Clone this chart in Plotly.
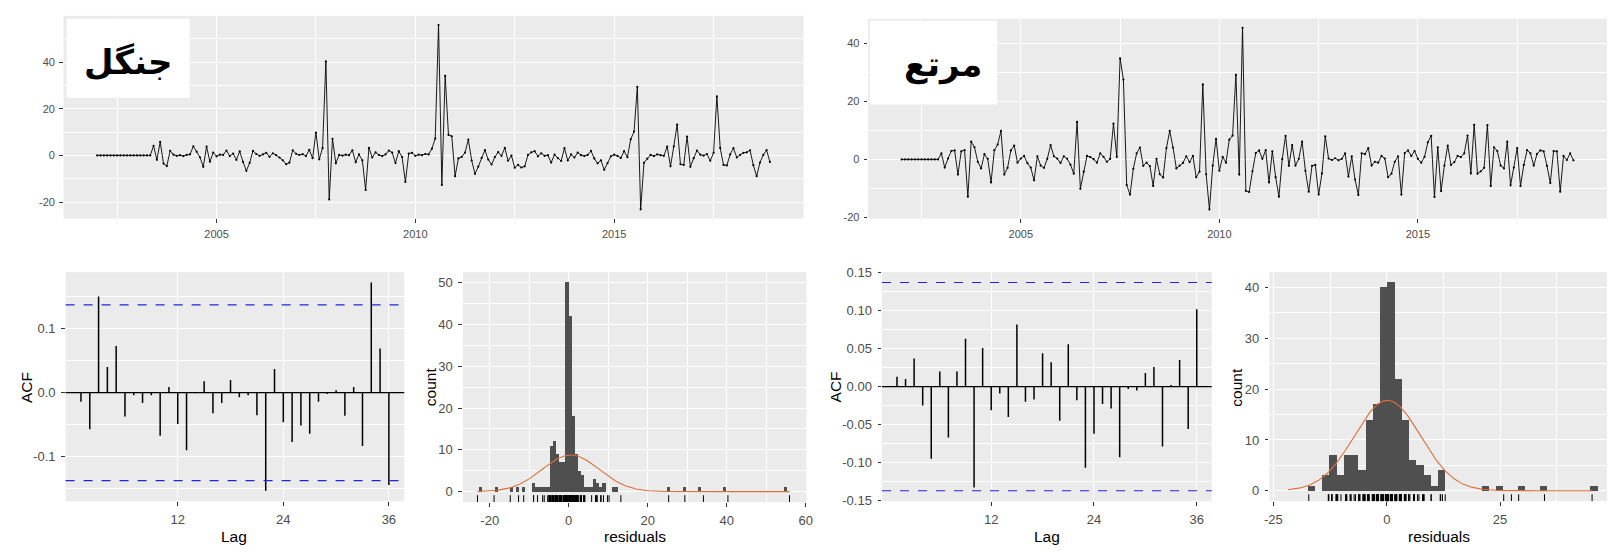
import numpy as np
import plotly.graph_objects as go

# ---------------- data ----------------
start_year = 2002
forest_resid = [
    0, 0, 0, 0, 0, 0, 0, 0, 0, 0, 0, 0,
    0, 0, 0, 0, 0, 4.1, -1.9, 5.8, -3.5, -4.6, 2.0, 0.3,
    -0.2, 0.1, -0.3, 0.2, 0.4, 3.9, 1.6, -0.8, -4.9, 3.8, -2.7, 1.2,
    -0.4, 0.3, 0.2, 2.1, -0.3, 0.8, -1.9, 1.7, -2.8, -6.6, -3.2, 1.9,
    0.6, -0.2, 0.4, 1.1, -0.6, 0.9, 0.1, -0.9, -2.1, -3.8, -3.1, 2.2,
    0.7, 0.2, 0.5, -0.3, 2.4, -1.2, 9.8, -1.7, 3.1, 40.3, -18.9, 7.1,
    -3.4, 0.2, -0.1, 0.3, 0.1, 2.2, -2.9, 0.4, -2.1, -14.8, 3.2, -0.9,
    1.3, 0.2, -0.3, 0.4, 2.1, 1.2, -3.3, 1.8, -0.7, -11.4, 0.8, 1.1,
    -0.2, 0.3, 0.1, 0.6, 0.4, 2.9, 7.2, 55.9, -12.7, 34.1, 8.8, 8.2,
    -8.9, -1.3, -0.6, 1.2, 6.8, -2.2, -7.9, -4.8, -1.1, 2.3, -1.8, -3.9,
    -0.7, 1.4, -0.2, 3.2, -2.3, -0.1, -5.3, -4.1, -5.2, -4.7, 0.2, 1.3,
    1.8, -0.4, 0.9, -0.2, 0.1, -3.1, 0.3, -1.2, -2.4, 3.1, -2.2, 0.4,
    -0.9, 1.2, 0.1, -0.3, 0.2, 1.9, -1.3, -3.4, -2.1, -6.2, -3.3, -0.4,
    0.3, -0.2, -1.1, 1.8, -0.8, 6.9, 10.2, 29.4, -23.1, -3.2, -1.4, 0.2,
    -0.3, 0.4, 0.1, -0.2, 3.8, -4.7, 3.9, 13.2, -3.8, -4.1, 8.1, -4.9,
    -1.2, 2.1, 0.3, -0.1, 0.6, -2.3, 1.1, 25.3, 3.2, -4.1, -4.3, 0.4,
    3.1, -0.9, 0.2, 1.1, 1.3, 2.2, -4.2, -8.9, -3.1, 0.2, 2.3, -2.8,
]
range_resid = [
    0, 0, 0, 0, 0, 0, 0, 0, 0, 0, 0, 0,
    2.1, -2.8, 0.3, 2.9, 3.1, -5.2, 2.8, 3.2, -12.8, 6.1, 4.2, -0.8,
    -3.1, 1.8, 0.2, -7.9, 3.2, 5.1, 9.8, -5.2, -2.9, 3.1, 4.8, -1.1,
    0.3, 1.2, -1.3, -2.8, -7.2, 1.1, -2.1, -2.9, 0.2, 4.9, 1.1, 0.3,
    -1.2, 1.1, 0.2, -1.8, -4.9, 12.9, -10.1, -4.2, 1.2, 0.8, 0.1, -1.1,
    2.1, 0.9, -0.8, 0.2, 12.3, 0.9, 34.8, 27.5, -8.8, -12.1, -3.2, 2.1,
    4.1, -2.2, -1.1, -2.3, -9.1, 0.2, -5.1, -6.2, 3.9, 9.8, 4.1, -3.1,
    -2.1, -1.2, 1.1, -0.9, 1.2, -6.1, -4.2, 25.8, -5.1, -17.2, -2.1, 7.1,
    -3.9, 0.9, -1.1, 6.8, 8.2, 29.1, -5.2, 45.3, -10.8, -11.2, -4.1, 2.2,
    3.1, 0.2, 3.2, -7.9, 2.8, -6.1, -12.8, 0.1, 8.1, -2.2, 4.9, -2.1,
    0.2, 6.1, -3.9, -11.1, -2.2, -1.9, -12.1, -4.8, 7.9, 0.3, -0.2, 0.4,
    -0.3, 0.2, 2.1, -5.9, 1.1, -6.9, -12.2, 2.1, 1.8, 3.9, -2.1, -0.8,
    -1.1, 1.2, 0.3, -6.1, -4.9, -0.8, 1.1, -12.1, 2.2, 3.1, 1.2, 2.9,
    0.2, -1.1, 0.9, 5.9, 8.1, -12.9, 4.2, -10.9, -2.1, 4.8, -1.9, -0.9,
    1.2, 0.8, 2.1, 8.2, -4.8, 11.9, -4.9, -4.1, -2.9, 11.8, -9.1, 4.2,
    2.9, -2.1, -3.1, 6.1, -8.9, -2.8, 3.9, -9.1, -1.9, 3.2, 2.1, -2.1,
    1.9, 3.1, 2.8, -2.2, -8.1, 2.9, 2.8, -11.1, 1.2, -0.2, 2.1, -0.3,
]

acf_lags = list(range(1, 37))
forest_acf = [-0.014, -0.057, 0.150, 0.040, 0.073, -0.037, -0.004, -0.016, -0.004, -0.067,
              0.009, -0.049, -0.090, -0.001, 0.018, -0.032, -0.016, 0.020, -0.007, -0.004,
              -0.035, -0.153, 0.037, -0.046, -0.077, -0.051, -0.064, -0.014, -0.002, 0.004,
              -0.036, 0.009, -0.083, 0.172, 0.069, -0.144]
range_acf = [0.013, 0.010, 0.037, -0.025, -0.095, 0.020, -0.067, 0.020, 0.063, -0.133,
             0.051, -0.031, -0.009, -0.040, 0.082, -0.020, -0.017, 0.044, 0.032, -0.045,
             0.056, -0.018, -0.107, -0.062, -0.023, -0.029, -0.093, -0.003, -0.005, 0.018,
             0.026, -0.079, 0.002, 0.035, -0.056, 0.102]

forest_binwidth = 0.78
forest_hist_centers = [-22.31, -18.41, -14.51, -12.95, -11.39, -9.05, -8.27, -7.49, -6.71, -5.93,
                       -5.15, -4.37, -3.59, -2.81, -2.03, -1.25, -0.47, 0.31, 1.09, 1.87,
                       2.65, 3.43, 4.21, 4.99, 5.77, 6.55, 7.33, 8.11, 8.89, 11.23,
                       12.01, 25.27, 29.17, 33.07, 39.31, 54.91]
forest_hist_counts = [1, 1, 1, 1, 1, 2, 1, 1, 1, 1,
                      1, 11, 12, 9, 7, 7, 50, 42, 18, 9,
                      5, 4, 1, 1, 1, 3, 2, 1, 2, 1,
                      1, 1, 1, 1, 1, 1]
range_binwidth = 1.6
range_hist_centers = [-16.58, -13.38, -11.78, -10.18, -8.58, -6.98, -5.38, -3.78, -2.18, -0.58,
                      1.02, 2.62, 4.22, 5.82, 7.42, 9.02, 10.62, 12.22, 21.82, 25.02,
                      29.82, 34.62, 45.82]
range_hist_counts = [1, 3, 7, 3, 7, 7, 4, 14, 17, 40,
                     41, 22, 14, 6, 5, 3, 1, 4, 1, 1,
                     1, 1, 1]

ts_xticks = [2005, 2010, 2015]
ts_xminor = [2002.5, 2007.5, 2012.5, 2017.5]
forest_ts_yticks = [-20, 0, 20, 40]
range_ts_yticks = [-20, 0, 20, 40]
acf_xticks = [12, 24, 36]
forest_acf_yticks = [-0.1, 0.0, 0.1]
forest_acf_ylabels = ["-0.1", "0.0", "0.1"]
range_acf_yticks = [-0.15, -0.10, -0.05, 0.0, 0.05, 0.10, 0.15]
range_acf_ylabels = ["-0.15", "-0.10", "-0.05", "0.00", "0.05", "0.10", "0.15"]
forest_hist_xticks = [-20, 0, 20, 40, 60]
range_hist_xticks = [-25, 0, 25]
hist_yticks = [0, 10, 20, 30, 40, 50]
label_forest = "جنگل"
label_range = "مرتع"

# ---------------- helpers ----------------
W, H = 1619, 552
def px_x(a, b):
    return [a / W, b / W]
def px_y(top, bottom):
    return [1 - bottom / H, 1 - top / H]

GRID = "white"
TICKFONT_TOP = dict(family="Liberation Sans", size=11, color="#4D4D4D")
TICKFONT_BOT = dict(family="Liberation Sans", size=13, color="#4D4D4D")
TITLEFONT = dict(family="Liberation Sans", size=15.5, color="black")

def expand(lo, hi, f=0.05):
    s = hi - lo
    return [lo - f * s, hi + f * s]

def fmt(v):
    return str(int(v)) if float(v).is_integer() else str(v)

fig = go.Figure()

def axis_common(font, standoff=2):
    return dict(showgrid=True, gridcolor=GRID, gridwidth=1.1, zeroline=False,
                ticks="outside", ticklen=3.5, tickwidth=1, tickcolor="#333333",
                tickfont=font, showline=False, ticklabelstandoff=standoff)

layout_axes = {}

# ---- time series panels ----
def add_ts(resid, xa, ya, xdom, ydom, yticks):
    n = len(resid)
    t = [start_year + i / 12 for i in range(n)]
    fig.add_trace(go.Scatter(x=t, y=resid, mode="lines+markers",
                             line=dict(color="black", width=0.9),
                             marker=dict(color="black", size=2.2),
                             xaxis=xa, yaxis=ya, showlegend=False))
    xr = expand(t[0], t[-1])
    yr = expand(min(resid), max(resid))
    kx = "xaxis" + xa[1:]
    ky = "yaxis" + ya[1:]
    layout_axes[kx] = dict(domain=xdom, range=xr, anchor=ya,
                           tickmode="array", tickvals=ts_xticks, ticktext=[str(v) for v in ts_xticks],
                           minor=dict(tickmode="array", tickvals=ts_xminor, showgrid=True,
                                      gridcolor=GRID, gridwidth=0.5, ticks=""),
                           **axis_common(TICKFONT_TOP, 2))
    ymin = [v for v in range(-30, 70, 10) if v % 20 != 0]
    layout_axes[ky] = dict(domain=ydom, range=yr, anchor=xa,
                           tickmode="array", tickvals=yticks, ticktext=[fmt(v) for v in yticks],
                           minor=dict(tickmode="array", tickvals=ymin, showgrid=True,
                                      gridcolor=GRID, gridwidth=0.5, ticks=""),
                           **axis_common(TICKFONT_TOP, 2))

add_ts(forest_resid, "x", "y", px_x(59, 804), px_y(9, 217), forest_ts_yticks)
add_ts(range_resid, "x2", "y2", px_x(869, 1613), px_y(12, 217), range_ts_yticks)

# ---- ACF panels ----
def add_acf(acf, n, xa, ya, xdom, ydom, yticks, ylabels):
    xs, ys = [], []
    for lag, v in zip(acf_lags, acf):
        xs += [lag, lag, None]
        ys += [0, v, None]
    fig.add_trace(go.Scatter(x=xs, y=ys, mode="lines", line=dict(color="black", width=1.5),
                             xaxis=xa, yaxis=ya, showlegend=False, hoverinfo="skip"))
    ci = 1.96 / np.sqrt(n)
    xr = expand(acf_lags[0], acf_lags[-1])
    yr = expand(min(min(acf), -ci), max(max(acf), ci))
    ref = xa + " domain"
    fig.add_shape(type="line", xref=ref, yref=ya, x0=0, x1=1, y0=0, y1=0,
                  line=dict(color="black", width=1.2))
    for c in (ci, -ci):
        fig.add_shape(type="line", xref=ref, yref=ya, x0=0, x1=1, y0=c, y1=c,
                      line=dict(color="#2424E0", width=1.2, dash="dash"))
    step = yticks[1] - yticks[0]
    yminor = [yticks[0] - step / 2] + [v + step / 2 for v in yticks]
    kx = "xaxis" + xa[1:]
    ky = "yaxis" + ya[1:]
    layout_axes[kx] = dict(domain=xdom, range=xr, anchor=ya,
                           tickmode="array", tickvals=acf_xticks, ticktext=[str(v) for v in acf_xticks],
                           **axis_common(TICKFONT_BOT, 3))
    layout_axes[ky] = dict(domain=ydom, range=yr, anchor=xa,
                           tickmode="array", tickvals=yticks, ticktext=ylabels,
                           minor=dict(tickmode="array", tickvals=yminor, showgrid=True,
                                      gridcolor=GRID, gridwidth=0.5, ticks=""),
                           **axis_common(TICKFONT_BOT, 3))

add_acf(forest_acf, len(forest_resid), "x3", "y3", px_x(61, 402), px_y(272, 507),
        forest_acf_yticks, forest_acf_ylabels)
add_acf(range_acf, len(range_resid), "x5", "y5", px_x(883, 1215), px_y(272, 507),
        range_acf_yticks, range_acf_ylabels)

# ---- histogram panels ----
def add_hist(resid, centers, counts, bw, xa, ya, xdom, ydom, xr, xticks, yticks_max):
    fig.add_trace(go.Bar(x=centers, y=counts, width=bw,
                         marker=dict(color="#4F4F4F", line=dict(width=0)),
                         xaxis=xa, yaxis=ya, showlegend=False))
    r = np.array(resid, dtype=float)
    n = len(r)
    m, s = r.mean(), r.std(ddof=1)
    lo = min(r.min(), m - 3 * s)
    hi = max(r.max(), m + 3 * s)
    xx = np.linspace(lo, hi, 400)
    yy = n * bw * np.exp(-0.5 * ((xx - m) / s) ** 2) / (s * np.sqrt(2 * np.pi))
    fig.add_trace(go.Scatter(x=xx, y=yy, mode="lines", line=dict(color="#E0703A", width=1.1),
                             xaxis=xa, yaxis=ya, showlegend=False, hoverinfo="skip"))
    yr = expand(0, max(counts))
    rug_len = 0.03 * (yr[1] - yr[0])
    rx, ry = [], []
    for v in resid:
        rx += [v, v, None]
        ry += [yr[0], yr[0] + rug_len, None]
    fig.add_trace(go.Scatter(x=rx, y=ry, mode="lines", line=dict(color="black", width=1),
                             xaxis=xa, yaxis=ya, showlegend=False, hoverinfo="skip"))
    yt = [v for v in hist_yticks if v <= yticks_max]
    yminor = [v + 5 for v in range(0, 60, 10)]
    xstep = xticks[1] - xticks[0]
    xminor = [xticks[0] - xstep / 2] + [v + xstep / 2 for v in xticks]
    kx = "xaxis" + xa[1:]
    ky = "yaxis" + ya[1:]
    layout_axes[kx] = dict(domain=xdom, range=xr, anchor=ya,
                           tickmode="array", tickvals=xticks, ticktext=[fmt(v) for v in xticks],
                           minor=dict(tickmode="array", tickvals=xminor, showgrid=True,
                                      gridcolor=GRID, gridwidth=0.5, ticks=""),
                           **axis_common(TICKFONT_BOT, 3))
    layout_axes[ky] = dict(domain=ydom, range=yr, anchor=xa,
                           tickmode="array", tickvals=yt, ticktext=[fmt(v) for v in yt],
                           minor=dict(tickmode="array", tickvals=yminor, showgrid=True,
                                      gridcolor=GRID, gridwidth=0.5, ticks=""),
                           **axis_common(TICKFONT_BOT, 3))

add_hist(forest_resid, forest_hist_centers, forest_hist_counts, forest_binwidth,
         "x4", "y4", px_x(461, 807), px_y(272, 508), [-26.8, 60.2], forest_hist_xticks, 50)
add_hist(range_resid, range_hist_centers, range_hist_counts, range_binwidth,
         "x6", "y6", px_x(1273, 1613), px_y(272, 507), [-25.9, 48.6], range_hist_xticks, 40)

# ---- label boxes ----
for (x0, x1, y0, y1, cx, cy, txt) in [
    (62, 186, 12, 93, 124, 56, label_forest),
    (871, 999, 14, 100, 944, 59, label_range),
]:
    fig.add_shape(type="rect", xref="paper", yref="paper",
                  x0=x0 / W, x1=x1 / W, y0=1 - y1 / H, y1=1 - y0 / H,
                  fillcolor="white", line=dict(width=0), layer="above")
    fig.add_annotation(x=cx / W, y=1 - cy / H, xref="paper", yref="paper", text="<b>" + txt + "</b>",
                       showarrow=False, xanchor="center", yanchor="middle",
                       font=dict(family="DejaVu Sans", size=34, color="black"))

# ---- axis titles ----
titles = [
    ("ACF", 21, 390, -90), ("Lag", 231, 543, 0),
    ("count", 428, 390, -90), ("residuals", 634, 543, 0),
    ("ACF", 836, 390, -90), ("Lag", 1049, 543, 0),
    ("count", 1240, 390, -90), ("residuals", 1444, 543, 0),
]
for txt, x, y, ang in titles:
    fig.add_annotation(x=x / W, y=1 - y / H, xref="paper", yref="paper", text=txt,
                       showarrow=False, textangle=ang, xanchor="center", yanchor="middle",
                       font=TITLEFONT, borderpad=0)

fig.update_layout(width=W, height=H, margin=dict(l=0, r=0, t=0, b=0),
                  paper_bgcolor="white", plot_bgcolor="#EBEBEB", showlegend=False,
                  bargap=0, **layout_axes)

fig.write_html("out.html", config={"displayModeBar": False},
               post_script="document.body.style.margin='0px';document.body.style.overflow='hidden';")
